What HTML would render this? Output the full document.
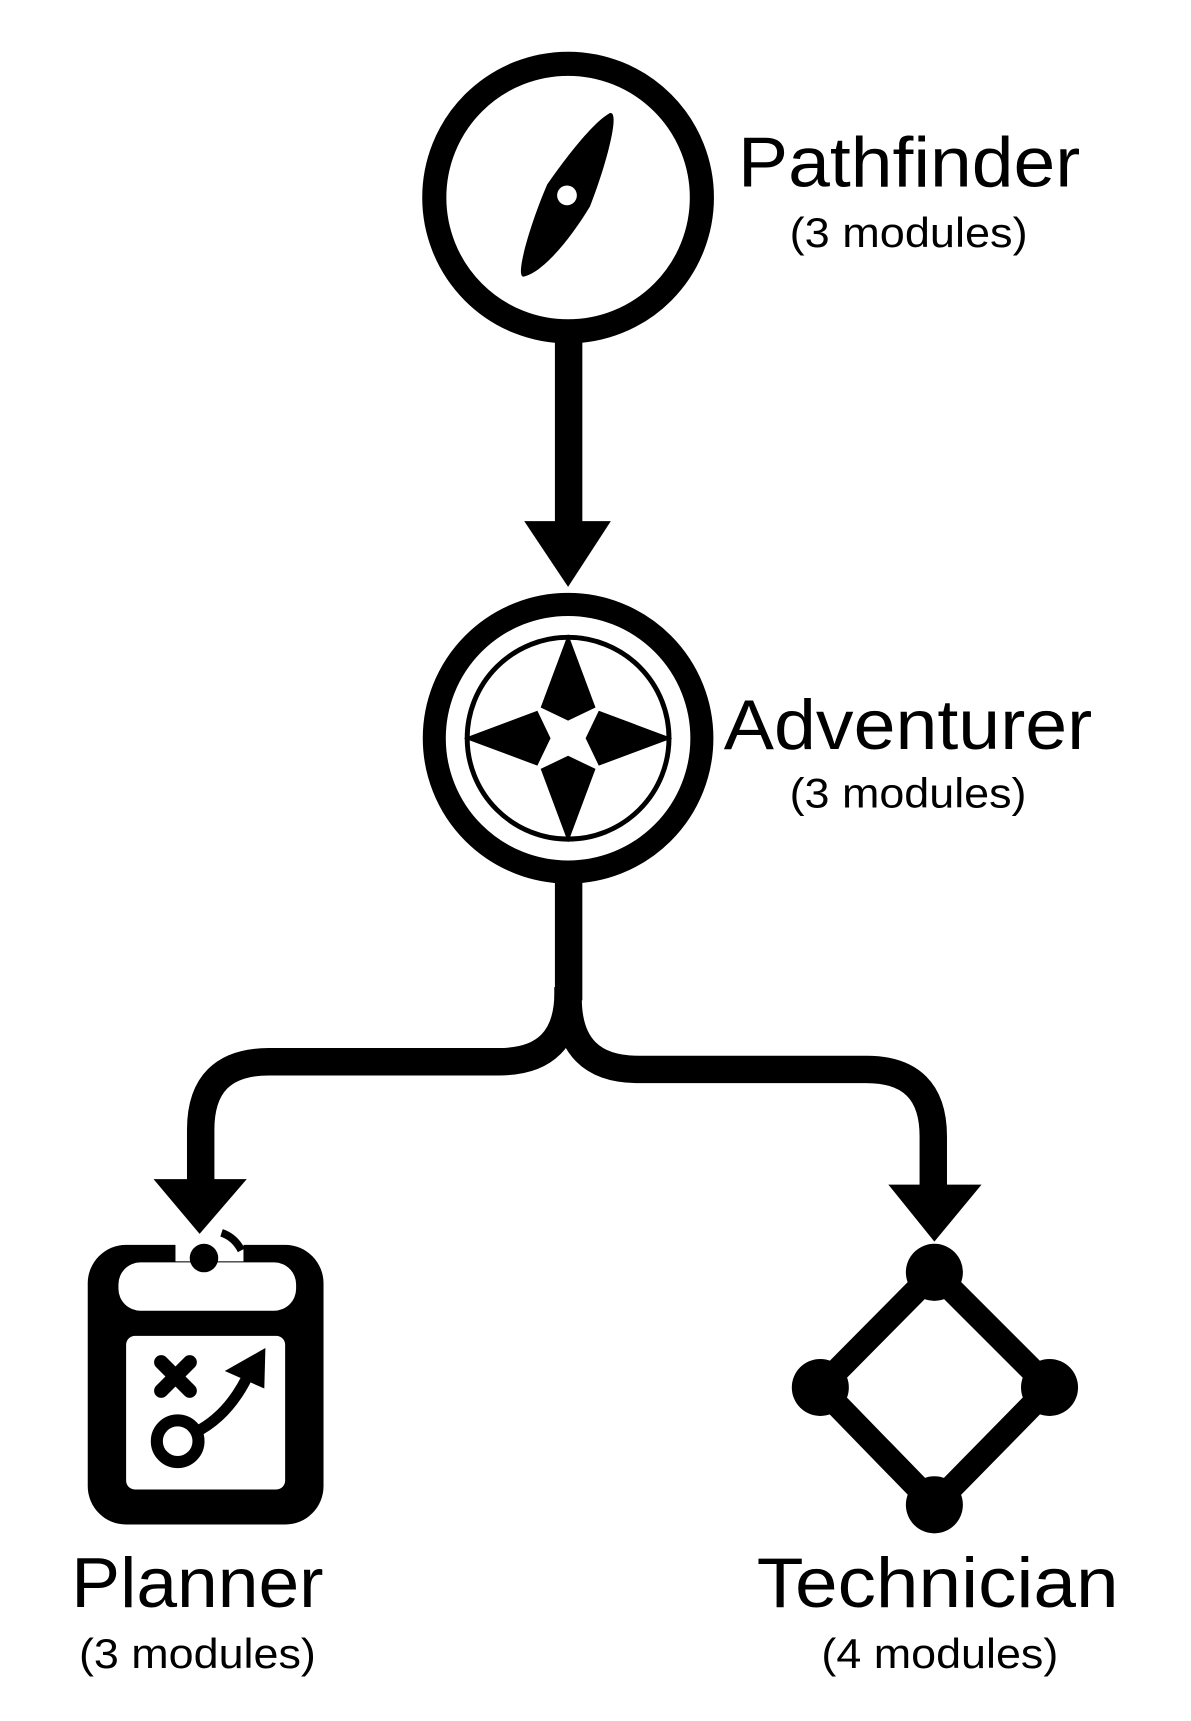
<!DOCTYPE html>
<html><head><meta charset="utf-8"><style>html,body{margin:0;padding:0;background:#fff}svg{display:block}</style></head>
<body>
<svg width="1191" height="1721" viewBox="0 0 1086 1569" xmlns="http://www.w3.org/2000/svg">
<rect width="1086" height="1569" fill="#fff"/>
<!-- Pathfinder -->
<circle cx="518" cy="180" r="122" fill="none" stroke="#000" stroke-width="22"/>
<path d="M556,103 C566,100 553,150 538,188 C520,218 495,248 478,252 C468,255 485,200 499,168 C515,145 540,112 556,103 Z" fill="#000"/>
<circle cx="517" cy="178" r="9" fill="#fff"/>
<!-- connector 1 -->
<rect x="506" y="300" width="25" height="180" fill="#000"/>
<polygon points="478,475 557,475 518,535" fill="#000"/>
<!-- Adventurer -->
<circle cx="518" cy="673" r="122" fill="none" stroke="#000" stroke-width="21"/>
<circle cx="518" cy="673" r="92" fill="none" stroke="#000" stroke-width="4.5"/>
<g fill="#000">
<polygon points="518,578 543,645 518,657 493,645"/>
<polygon points="518,578 543,645 518,657 493,645" transform="rotate(90 518 673)"/>
<polygon points="518,578 543,645 518,657 493,645" transform="rotate(180 518 673)"/>
<polygon points="518,578 543,645 518,657 493,645" transform="rotate(270 518 673)"/>
</g>
<!-- branches -->
<path d="M518,900 V905 Q518,968 455,968 H245 Q183,968 183,1030 V1080" fill="none" stroke="#000" stroke-width="25"/>
<path d="M518,900 V910 Q518,975 582,975 H790 Q851,975 851,1036 V1085" fill="none" stroke="#000" stroke-width="25"/>
<rect x="506" y="800" width="25" height="112" fill="#000"/>
<polygon points="140,1075 225,1075 182,1125" fill="#000"/>
<polygon points="810,1080 895,1080 852,1132" fill="#000"/>
<!-- Planner icon -->
<rect x="80" y="1135" width="215" height="255" rx="35" fill="#000"/>
<rect x="160" y="1133" width="62" height="17" fill="#fff"/>
<rect x="108" y="1151" width="162" height="44" rx="20" fill="#fff"/>
<circle cx="186" cy="1147" r="13" fill="#000"/>
<path d="M202,1124 Q214,1128 220,1140" fill="none" stroke="#000" stroke-width="7"/>
<rect x="115" y="1218" width="145" height="140" rx="8" fill="#fff"/>
<g stroke="#000" stroke-width="13" stroke-linecap="round">
<line x1="147" y1="1242" x2="173" y2="1268"/><line x1="173" y1="1242" x2="147" y2="1268"/>
</g>
<circle cx="162" cy="1314" r="19" fill="none" stroke="#000" stroke-width="11"/>
<path d="M178,1306 Q210,1290 228,1250" fill="none" stroke="#000" stroke-width="10"/>
<polygon points="205,1250 242,1229 241,1266" fill="#000"/>
<!-- Technician icon -->
<g stroke="#000" stroke-width="22" fill="none"><polygon points="852,1160 957,1265 852,1372 748,1265"/></g>
<g fill="#000"><circle cx="852" cy="1160" r="26"/><circle cx="957" cy="1265" r="26"/><circle cx="852" cy="1372" r="26"/><circle cx="748" cy="1265" r="26"/></g>
<!-- text -->
<g font-family="Liberation Sans, Arial, sans-serif" fill="#000">
<text x="673" y="170" font-size="64" textLength="312" lengthAdjust="spacingAndGlyphs">Pathfinder</text>
<text x="720" y="225" font-size="38" textLength="217" lengthAdjust="spacingAndGlyphs">(3 modules)</text>
<text x="660" y="683" font-size="64" textLength="336" lengthAdjust="spacingAndGlyphs">Adventurer</text>
<text x="720" y="736" font-size="38" textLength="216" lengthAdjust="spacingAndGlyphs">(3 modules)</text>
<text x="65" y="1465" font-size="64" textLength="230" lengthAdjust="spacingAndGlyphs">Planner</text>
<text x="72" y="1521" font-size="38" textLength="216" lengthAdjust="spacingAndGlyphs">(3 modules)</text>
<text x="690" y="1465" font-size="64" textLength="330" lengthAdjust="spacingAndGlyphs">Technician</text>
<text x="749" y="1521" font-size="38" textLength="216" lengthAdjust="spacingAndGlyphs">(4 modules)</text>
</g>
</svg>
</body></html>
